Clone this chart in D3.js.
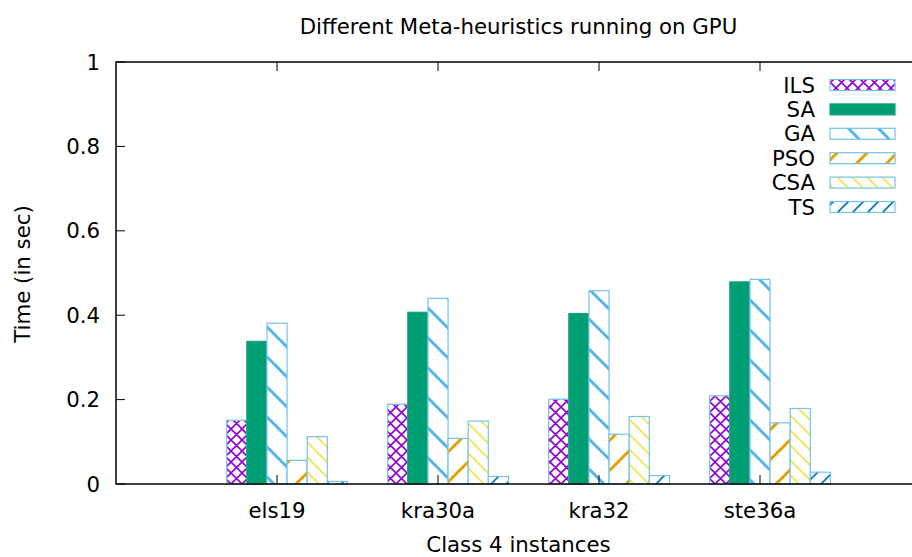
<!DOCTYPE html>
<html>
<head>
<meta charset="utf-8">
<script src="https://cdn.jsdelivr.net/npm/d3@7"></script>
<style>
  body { margin: 0; background: #fff; }
  svg text { font-family: "DejaVu Sans", sans-serif; fill: #000; }
</style>
</head>
<body>
<svg id="chart" width="912" height="557"></svg>
<script>
// data
const categories = ['els19', 'kra30a', 'kra32', 'ste36a'];
const seriesNames = ['ILS', 'SA', 'GA', 'PSO', 'CSA', 'TS'];
const ILS = [0.151, 0.189, 0.201, 0.209];
const SA  = [0.338, 0.407, 0.404, 0.479];
const GA  = [0.381, 0.440, 0.458, 0.485];
const PSO = [0.056, 0.108, 0.118, 0.145];
const CSA = [0.112, 0.149, 0.160, 0.179];
const TS  = [0.006, 0.018, 0.020, 0.028];
const yTicks = [0, 0.2, 0.4, 0.6, 0.8, 1];
const yTickLabels = ['0', '0.2', '0.4', '0.6', '0.8', '1'];

const values = [ILS, SA, GA, PSO, CSA, TS];

// look of each series (gnuplot-like fill patterns)
const styles = [
  { id: 'pILS', color: '#9400d3', kind: 'cross', period: 11, lw: 1.6 },
  { id: 'pSA',  color: '#009e73', kind: 'solid' },
  { id: 'pGA',  color: '#56b4e9', kind: 'back',  period: 30, lw: 3 },
  { id: 'pPSO', color: '#e69f00', kind: 'slash', period: 30, lw: 3 },
  { id: 'pCSA', color: '#f0e442', kind: 'back',  period: 15, lw: 1.6 },
  { id: 'pTS',  color: '#0072b2', kind: 'slash', period: 15, lw: 1.6 }
];

const fontSize = 21.3;
const svg = d3.select('#chart');
const m = { left: 116, right: 921, top: 62, bottom: 484 };

const x = d3.scaleLinear().domain([-1, 4]).range([m.left, m.right]);
const y = d3.scaleLinear().domain([0, 1]).range([m.bottom, m.top]);
const nSeries = seriesNames.length;
const slot = 1 / (nSeries + 2);   // gap of two bars between clusters

// patterns
const defs = svg.append('defs');
styles.forEach(s => {
  if (s.kind === 'solid') return;
  const P = s.period;
  const pat = defs.append('pattern')
    .attr('id', s.id)
    .attr('patternUnits', 'userSpaceOnUse')
    .attr('width', P).attr('height', P);
  pat.append('rect').attr('width', P).attr('height', P).attr('fill', '#fff');
  const back = `M0,0L${P},${P}M-2,${P - 2}L2,${P + 2}M${P - 2},-2L${P + 2},2`;
  const slash = `M0,${P}L${P},0M-2,2L2,-2M${P - 2},${P + 2}L${P + 2},${P - 2}`;
  let d = s.kind === 'back' ? back : s.kind === 'slash' ? slash : back + slash;
  pat.append('path').attr('d', d)
    .attr('stroke', s.color)
    .attr('stroke-width', s.lw)
    .attr('fill', 'none');
});
const fillOf = s => s.kind === 'solid' ? s.color : `url(#${s.id})`;
const strokeOf = s => s.kind === 'solid' ? '#1a9f86' : '#74c2ee';

// bars
seriesNames.forEach((name, j) => {
  svg.append('g')
    .selectAll('rect')
    .data(values[j])
    .enter()
    .append('rect')
    .attr('x', (d, i) => x(i + (j - 2.5) * slot))
    .attr('y', d => y(d))
    .attr('width', (d, i) => x(i + (j - 1.5) * slot) - x(i + (j - 2.5) * slot))
    .attr('height', d => y(0) - y(d))
    .attr('fill', fillOf(styles[j]))
    .attr('stroke', strokeOf(styles[j]))
    .attr('stroke-width', 1.2);
});

// frame and ticks
const frame = svg.append('g').attr('stroke', '#000').attr('fill', 'none');
frame.append('rect')
  .attr('x', m.left).attr('y', m.top)
  .attr('width', m.right - m.left).attr('height', m.bottom - m.top)
  .attr('stroke-width', 1.5);
yTicks.forEach(t => {
  frame.append('line').attr('x1', m.left).attr('x2', m.left + 9).attr('y1', y(t)).attr('y2', y(t));
  frame.append('line').attr('x1', m.right).attr('x2', m.right - 9).attr('y1', y(t)).attr('y2', y(t));
});
categories.forEach((c, i) => {
  frame.append('line').attr('x1', x(i)).attr('x2', x(i)).attr('y1', m.bottom).attr('y2', m.bottom - 9);
  frame.append('line').attr('x1', x(i)).attr('x2', x(i)).attr('y1', m.top).attr('y2', m.top + 9);
});

// tick labels
svg.append('g').selectAll('text')
  .data(yTicks)
  .enter()
  .append('text')
  .attr('x', m.left - 16)
  .attr('y', d => y(d))
  .attr('dy', '0.36em')
  .attr('text-anchor', 'end')
  .attr('font-size', fontSize)
  .text((d, i) => yTickLabels[i]);

svg.append('g').selectAll('text')
  .data(categories)
  .enter()
  .append('text')
  .attr('x', (d, i) => x(i))
  .attr('y', 518)
  .attr('text-anchor', 'middle')
  .attr('font-size', fontSize)
  .text(d => d);

// titles
svg.append('text')
  .attr('x', (m.left + m.right) / 2)
  .attr('y', 34)
  .attr('text-anchor', 'middle')
  .attr('font-size', fontSize)
  .text('Different Meta-heuristics running on GPU');

svg.append('text')
  .attr('x', (m.left + m.right) / 2)
  .attr('y', 552)
  .attr('text-anchor', 'middle')
  .attr('font-size', fontSize)
  .text('Class 4 instances');

svg.append('text')
  .attr('transform', 'translate(30,274) rotate(-90)')
  .attr('text-anchor', 'middle')
  .attr('font-size', fontSize)
  .text('Time (in sec)');

// legend
const legend = svg.append('g');
seriesNames.forEach((name, j) => {
  const cy = 85 + j * 24.4;
  legend.append('text')
    .attr('x', 815)
    .attr('y', cy)
    .attr('dy', '0.36em')
    .attr('text-anchor', 'end')
    .attr('font-size', fontSize)
    .text(name);
  legend.append('rect')
    .attr('x', 830).attr('y', cy - 5.5)
    .attr('width', 65).attr('height', 11)
    .attr('fill', fillOf(styles[j]))
    .attr('stroke', strokeOf(styles[j]))
    .attr('stroke-width', 1.2);
});
</script>
</body>
</html>
